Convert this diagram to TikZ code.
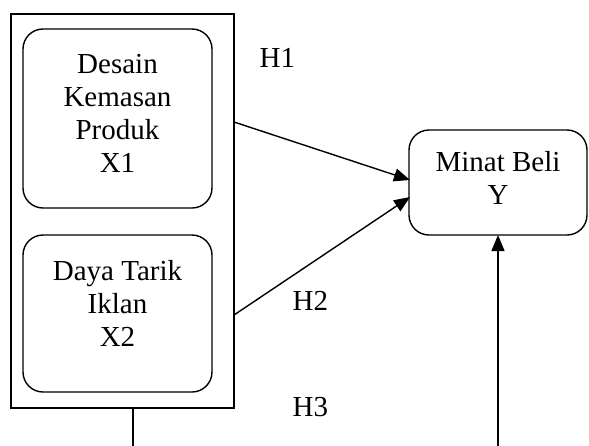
\documentclass[tikz,border=0pt]{standalone}
\usepackage{fontspec}
\setmainfont{Liberation Serif}
\usetikzlibrary{arrows.meta}
\begin{document}
\begin{tikzpicture}[x=1pt,y=-1pt,
  font=\fontsize{29}{33}\selectfont,
  line width=1.4pt,
  frame/.style={draw, inner sep=0pt, outer sep=0pt, minimum width=#1},
  varbox/.style={draw, rounded corners=20pt, inner sep=0pt, outer sep=0pt},
  lbl/.style={align=center, inner sep=0pt},
  hyp/.style={inner sep=0pt, anchor=base west},
  link/.style={-{Triangle[length=16pt,width=13pt]}}]
\useasboundingbox (0,0) rectangle (589,445);

% outer frame around the independent variables
\node[frame=223pt, minimum height=394pt] (outer) at (122.5,211) {};

% independent variables
\node[varbox, minimum width=189pt, minimum height=179pt] (x1) at (117.5,118.5) {};
\node[lbl] (x1t) at (117.5,113) {Desain\\Kemasan\\Produk\\X1};
\node[varbox, minimum width=189pt, minimum height=157pt] (x2) at (117.5,313.5) {};
\node[lbl] (x2t) at (117.5,303) {Daya Tarik\\Iklan\\X2};

% dependent variable
\node[varbox, minimum width=178pt, minimum height=105pt] (y) at (498,182.5) {};
\node[lbl] (yt) at (498,178) {Minat Beli\\Y};

% connector end points
\coordinate (h1s) at (234,122);
\coordinate (h1e) at (410,180);
\coordinate (h2s) at (234,315);
\coordinate (h2e) at (410,197);
\coordinate (h3s) at (133,408);
\coordinate (h3e) at (133,446);
\coordinate (h3b) at (498,446);

\draw[link] (h1s) -- (h1e);
\draw[link] (h2s) -- (h2e);
\draw (h3s) -- (h3e);
\draw[link] (h3b) -- (y.south);

% hypothesis labels
\node[hyp] (h1) at (259,67) {H1};
\node[hyp] (h2) at (292,310) {H2};
\node[hyp] (h3) at (292,416) {H3};
\end{tikzpicture}
\end{document}
